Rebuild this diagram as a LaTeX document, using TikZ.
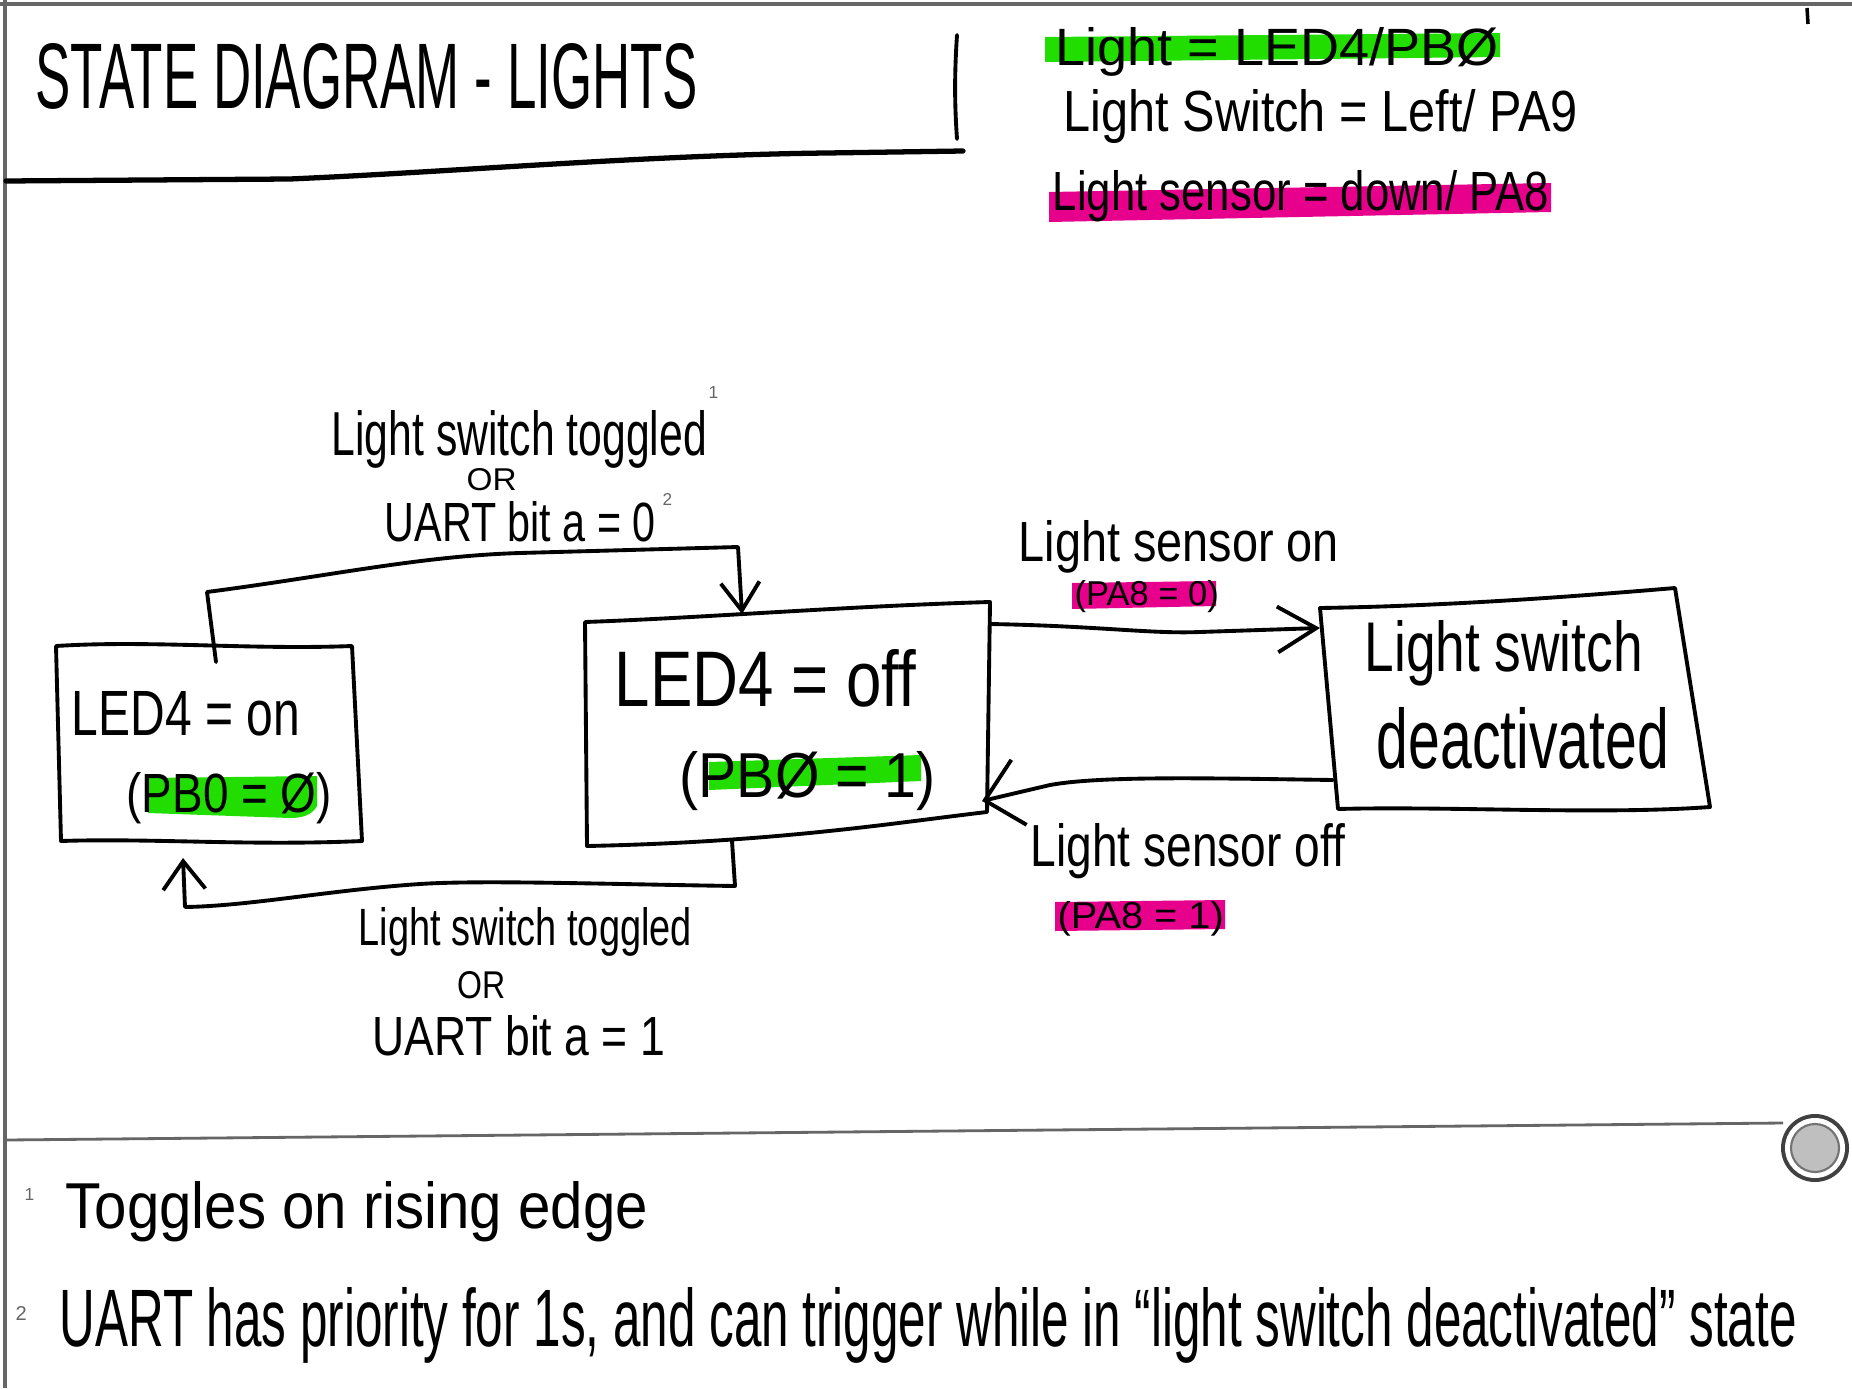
\documentclass[tikz,border=0pt]{standalone}
\usepackage{fontspec}
\setmainfont{Liberation Sans}
\usetikzlibrary{arrows.meta}
\definecolor{hlgreen}{RGB}{34,221,0}
\definecolor{hlpink}{RGB}{230,0,140}
\newcommand{\hw}[3]{\resizebox{#1cm}{#2cm}{#3}}
\begin{document}
\begin{tikzpicture}[x=0.01cm,y=-0.01cm,
  lbl/.style={inner sep=0pt, anchor=base west},
  ln/.style={line width=1.1pt, line cap=round, line join=round},
  hlg/.style={fill=hlgreen},
  hlp/.style={fill=hlpink},
  frame/.style={draw=black!60, line width=1.2pt}]
\useasboundingbox (0,0) rectangle (1852,1388);
\fill[white] (0,0) rectangle (1852,1388);
% page frame
\draw[frame] (0,4) -- (1852,4);
\draw[frame] (5,0) -- (5,1388);
\draw[black!60, line width=0.8pt] (6,1140) -- (1783,1123);
% title
\node[lbl] (title) at (35,109) {\hw{6.62}{0.65}{STATE DIAGRAM - LIGHTS}};
\draw[line width=1.5pt, line cap=round] (6,181) -- (290,179) .. controls (450,172) and (650,155) .. (827,153) -- (963,151);
\draw[ln] (957,35) .. controls (954,80) and (955,110) .. (957,139);
\draw[line width=1pt] (1807,8) -- (1808,24);
% legend
\fill[hlg] (1045,37) -- (1500,33) -- (1500,57) -- (1045,62) -- cycle;
\fill[hlp] (1049,192) -- (1551,183) -- (1551,212) -- (1049,222) -- cycle;
\node[lbl] (leg1) at (1055,66) {\hw{4.43}{0.38}{Light = LED4/PBØ}};
\node[lbl] (leg2) at (1063,132) {\hw{5.14}{0.42}{Light Switch = Left/ PA9}};
\node[lbl] (leg3) at (1052,210) {\hw{4.96}{0.40}{Light sensor = down/ PA8}};
% box A
\coordinate (A1) at (56,646); \coordinate (A2) at (352,646);
\coordinate (A3) at (362,841); \coordinate (A4) at (61,841);
\draw[ln] (A1) .. controls (150,640) and (250,650) .. (A2) -- (A3) .. controls (250,846) and (150,838) .. (A4) -- cycle;
\fill[hlg] (148,778) -- (317,776) -- (317,806) .. controls (312,816) and (300,818) .. (290,818) -- (148,813) -- cycle;
\node[lbl] (Aon) at (71,735) {\hw{2.28}{0.44}{LED4 = on}};
\node[lbl] (Apb) at (126,812) {\hw{2.05}{0.40}{(PB0 = Ø)}};
% box B
\coordinate (B1) at (585,622); \coordinate (B2) at (990,602);
\coordinate (B3) at (987,812); \coordinate (B4) at (587,846);
\draw[ln] (B1) .. controls (700,618) and (850,606) .. (B2) -- (B3) .. controls (900,822) and (780,842) .. (B4) -- cycle;
\fill[hlg] (709,762) -- (921,755) -- (921,781) -- (709,790) -- cycle;
\node[lbl] (Boff) at (614,706) {\hw{3.01}{0.57}{LED4 = off}};
\node[lbl] (Bpb) at (679,797) {\hw{2.56}{0.46}{(PBØ = 1)}};
% box C
\coordinate (C1) at (1320,608); \coordinate (C2) at (1675,588);
\coordinate (C3) at (1710,807); \coordinate (C4) at (1338,809);
\draw[ln] (C1) .. controls (1450,606) and (1580,596) .. (C2) -- (C3) .. controls (1600,815) and (1450,806) .. (C4) -- cycle;
\node[lbl] (Cl1) at (1364,671) {\hw{2.78}{0.51}{Light switch}};
\node[lbl] (Cl2) at (1376,768) {\hw{2.92}{0.61}{deactivated}};
% connector anchors
\coordinate (AtopOut) at (216,662);
\coordinate (BtopIn) at (742,614);
\coordinate (BbotOut) at (732,841);
\coordinate (AbotIn) at (183,858);
\coordinate (BrightOut) at (990,624);
\coordinate (CleftIn) at (1320,628);
\coordinate (CleftOut) at (1333,780);
\coordinate (BrightIn) at (982,801);
% A -> B (top)
\draw[ln, -{Straight Barb[length=8pt,width=11pt]}] (AtopOut) -- (207,592) .. controls (330,576) and (420,556) .. (520,553) -- (738,547) -- (BtopIn);
% B -> A (bottom)
\draw[ln, -{Straight Barb[length=8pt,width=12pt]}] (BbotOut) -- (735,886) .. controls (600,884) and (480,880) .. (420,884) .. controls (330,890) and (250,906) .. (185,907) -- (AbotIn);
% B -> C
\draw[ln, -{Straight Barb[length=11pt,width=13pt]}] (BrightOut) .. controls (1100,626) and (1150,634) .. (1200,632) -- (CleftIn);
% C -> B
\draw[ln, -{Straight Barb[length=10pt,width=19pt]}] (CleftOut) .. controls (1200,778) and (1100,776) .. (1050,785) -- (BrightIn);
% labels top transition
\node[lbl] (t1) at (331,455) {\hw{3.75}{0.45}{Light switch toggled}};
\node[lbl, text=black!60] (s1) at (708,398) {\resizebox{!}{0.12cm}{1}};
\node[lbl] (t2) at (466,490) {\hw{0.50}{0.22}{OR}};
\node[lbl] (t3) at (384,541) {\hw{2.71}{0.40}{UART bit a = 0}};
\node[lbl, text=black!60] (s2) at (662,505) {\resizebox{!}{0.12cm}{2}};
% labels bottom transition
\node[lbl] (b1) at (358,945) {\hw{3.33}{0.38}{Light switch toggled}};
\node[lbl] (b2) at (457,998) {\hw{0.48}{0.27}{OR}};
\node[lbl] (b3) at (372,1055) {\hw{2.92}{0.40}{UART bit a = 1}};
% labels right transitions
\fill[hlp] (1072,583) -- (1216,581) -- (1216,606) -- (1072,609) -- cycle;
\node[lbl] (r1) at (1018,561) {\hw{3.20}{0.41}{Light sensor on}};
\node[lbl] (r2) at (1074,605) {\hw{1.44}{0.25}{(PA8 = 0)}};
\fill[hlp] (1055,902) -- (1225,900) -- (1225,929) -- (1055,931) -- cycle;
\node[lbl] (r3) at (1030,866) {\hw{3.14}{0.43}{Light sensor off}};
\node[lbl] (r4) at (1057,928) {\hw{1.66}{0.27}{(PA8 = 1)}};
% button
\fill[black!75] (1815,1148) circle (34);
\fill[white] (1815,1148) circle (30);
\filldraw[fill=black!25, draw=black!55, line width=0.6pt] (1815,1148) circle (24);
% footnotes
\node[lbl, text=black!60] (f1m) at (24,1200) {\resizebox{!}{0.12cm}{1}};
\node[lbl] (f1) at (65,1228) {\hw{5.82}{0.47}{Toggles on rising edge}};
\node[lbl, text=black!60] (f2m) at (15,1320) {\resizebox{!}{0.14cm}{2}};
\node[lbl] (f2) at (59,1346) {\hw{17.36}{0.59}{UART has priority for 1s, and can trigger while in ``light switch deactivated'' state}};
\end{tikzpicture}
\end{document}
